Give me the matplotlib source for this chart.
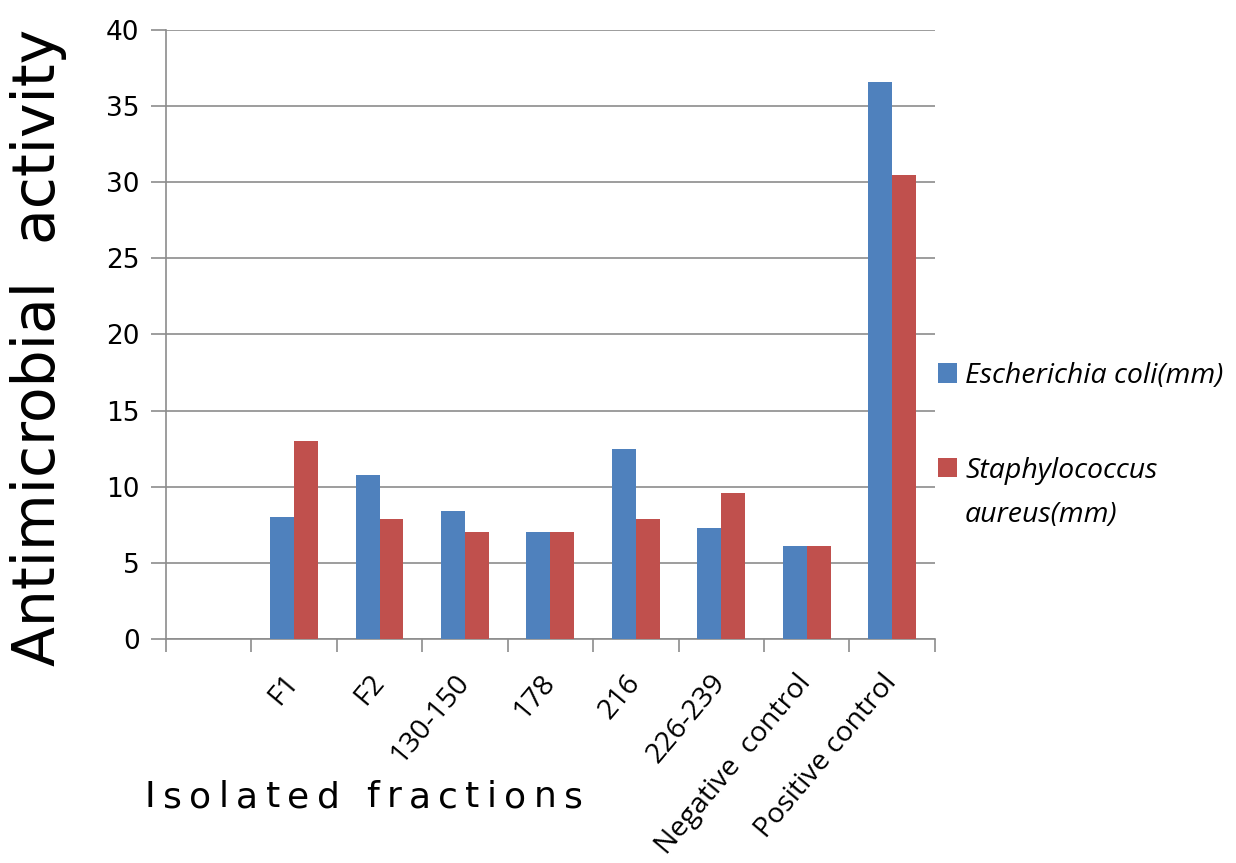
import numpy as np
import matplotlib.pyplot as plt

fractions = ['', 'F1', 'F2', '130-150', '178', '216', '226-239',
             'Negative  control', 'Positive control']
e_coli = [0, 8.0, 10.8, 8.4, 7.0, 12.5, 7.3, 6.1, 36.6]
s_aureus = [0, 13.0, 7.9, 7.0, 7.0, 7.9, 9.6, 6.1, 30.5]

blue = '#4F81BD'
red = '#C0504D'
grey = '#8C8C8C'

fig = plt.figure(figsize=(12.36, 8.63), dpi=100)
ax = fig.add_axes([0.1343, 0.2596, 0.622, 0.7056])

x = np.arange(len(fractions))
w = 0.28
ax.bar(x - w / 2, e_coli, w, color=blue, label='Escherichia coli(mm)', zorder=3)
ax.bar(x + w / 2, s_aureus, w, color=red, label='Staphylococcus', zorder=3)

ax.set_xlim(-0.5, len(fractions) - 0.5)
ax.set_ylim(0, 40)
ax.set_yticks(np.arange(0, 41, 5))
ax.yaxis.grid(True, color=grey, linewidth=1.2, zorder=0)
ax.tick_params(axis='y', length=11, color=grey, width=1.2, labelsize=19, pad=8)

# boundary ticks, labels at the centres
ax.set_xticks(np.arange(-0.5, len(fractions), 1.0))
ax.set_xticklabels([])
ax.tick_params(axis='x', which='major', length=9, color=grey, width=1.2)
ax.set_xticks(x, minor=True)
ax.set_xticklabels(fractions, minor=True, rotation=50, ha='right', va='center',
                   rotation_mode='anchor', fontsize=20.5, family='Open Sans')
ax.tick_params(axis='x', which='minor', length=0, pad=28)

for s in ['top', 'right']:
    ax.spines[s].set_visible(False)
for s in ['left', 'bottom']:
    ax.spines[s].set_color(grey)
    ax.spines[s].set_linewidth(1.2)

fig.text(0.031, 1 - 347 / 863, 'Antimicrobial  activity', rotation=90,
         ha='center', va='center', fontsize=42)

leg = fig.legend(loc='upper left', bbox_to_anchor=(938 / 1236, 1 - 362 / 863),
                 frameon=False, borderpad=0, borderaxespad=0,
                 handlelength=0.65, handleheight=0.65, handletextpad=0.3,
                 labelspacing=2.35,
                 prop={'family': 'Open Sans', 'style': 'italic', 'size': 20.5})

# x axis title, drawn letter by letter to get the wide tracking
fig.canvas.draw()
renderer = fig.canvas.get_renderer()
title = 'Isolated fractions'
letters = []
widths = []
for ch in title:
    t = fig.text(0, 1 - 797 / 863, ch, ha='left', va='center', fontsize=26)
    letters.append(t)
    widths.append(t.get_window_extent(renderer).width if ch != ' ' else 12)
gap = (438 - sum(widths)) / (len(title) - 1)
xpos = 145
for t, wd in zip(letters, widths):
    t.set_x(xpos / 1236)
    xpos += wd + gap

# second line of the S. aureus legend label, under the first line
bb = leg.get_texts()[1].get_window_extent(renderer)
fig.text(bb.x0 / 1236, (bb.y0 - 44) / 863, 'aureus(mm)', ha='left', va='bottom',
         family='Open Sans', style='italic', fontsize=20.5)

fig.savefig('out.png', dpi=100)
